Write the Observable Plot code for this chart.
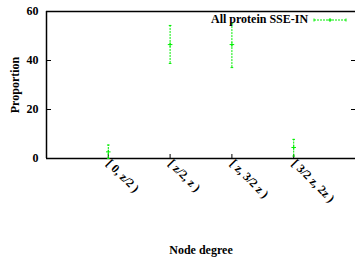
<!DOCTYPE html>
<html>
<head>
<meta charset="utf-8">
<script src="https://cdn.jsdelivr.net/npm/d3@7"></script>
<script src="https://cdn.jsdelivr.net/npm/@observablehq/plot@0.6"></script>
<style>
  body { margin: 0; background: #fff; }
  #wrap { position: relative; width: 355px; height: 261px; overflow: hidden; }
  #legend { position: absolute; top: 12px; left: 211px; font: bold 12px "Liberation Serif", serif; display: flex; align-items: center; white-space: nowrap; }
  #legend svg { margin-left: 5px; }
</style>
</head>
<body>
<div id="wrap"><div id="legend"><span>All protein SSE-IN</span><svg width="34" height="8"><line x1="1" y1="4" x2="33" y2="4" stroke="#00ee00" stroke-width="1" stroke-dasharray="2,1"/><line x1="1" y1="2.5" x2="1" y2="5.5" stroke="#00ee00"/><line x1="33" y1="2.5" x2="33" y2="5.5" stroke="#00ee00"/><line x1="15" y1="4" x2="19" y2="4" stroke="#00ee00"/><line x1="17" y1="2" x2="17" y2="6" stroke="#00ee00"/></svg></div></div>
<script>
const categories = ["[ 0, z/2 )", "[ z/2, z )", "[ z, 3/2 z )", "[ 3/2 z, 2z )"];
const positions = [1, 2, 3, 4];
const values = [2.7, 46.5, 46.5, 4.5];
const lows = [0, 38.8, 37.1, 1.0];
const highs = [5.5, 54.3, 55.0, 7.8];
const yTicks = [0, 20, 40, 60];

const data = categories.map((c, i) => ({cat: c, x: positions[i], v: values[i], lo: lows[i], hi: highs[i]}));
const green = "#00ee00";
const capSymbol = {draw(ctx, size) { const r = Math.sqrt(size) / 2; ctx.moveTo(-r, 0); ctx.lineTo(r, 0); }};
const font = "Liberation Serif, Times New Roman, serif";

const chart = Plot.plot({
  width: 355,
  height: 261,
  marginLeft: 46,
  marginRight: 0,
  marginTop: 11,
  marginBottom: 103,
  style: {fontFamily: font, fontWeight: "bold", fontSize: "12px", color: "#000"},
  x: {domain: [0, 5]},
  y: {domain: [0, 60]},
  marks: [
    Plot.ruleY([0, 60], {stroke: "#000", strokeWidth: 1.5}),
    Plot.ruleX([0], {stroke: "#000", strokeWidth: 1.5}),
    Plot.axisY({ticks: yTicks, tickSize: 0, tickPadding: 8, fontSize: 12, label: "Proportion", labelAnchor: "center", labelArrow: "none", labelOffset: 36}),
    Plot.axisY({ticks: yTicks, tickSize: -5, tickFormat: () => "", label: null}),
    Plot.axisY({ticks: yTicks, anchor: "right", tickSize: -5, tickFormat: () => "", label: null}),
    Plot.axisX({ticks: positions, tickSize: -4, tickFormat: () => "", label: null}),
    Plot.axisX({ticks: positions, tickSize: 0, tickPadding: 3, tickRotate: 45, fontSize: 12, tickFormat: (d) => categories[positions.indexOf(d)], label: "Node degree", labelAnchor: "center", labelArrow: "none", labelOffset: 95, fontWeight: "bold"}),
    Plot.ruleX(data, {x: "x", y1: "lo", y2: "hi", stroke: green, strokeWidth: 1, strokeDasharray: "2,1"}),
    Plot.dot(data, {x: "x", y: "lo", symbol: capSymbol, r: 1.5, stroke: green, strokeWidth: 1}),
    Plot.dot(data, {x: "x", y: "hi", symbol: capSymbol, r: 1.5, stroke: green, strokeWidth: 1}),
    Plot.dot(data, {x: "x", y: "v", symbol: "plus", r: 1.6, stroke: green, strokeWidth: 1})
  ]
});
document.getElementById("wrap").prepend(chart);
</script>
</body>
</html>
